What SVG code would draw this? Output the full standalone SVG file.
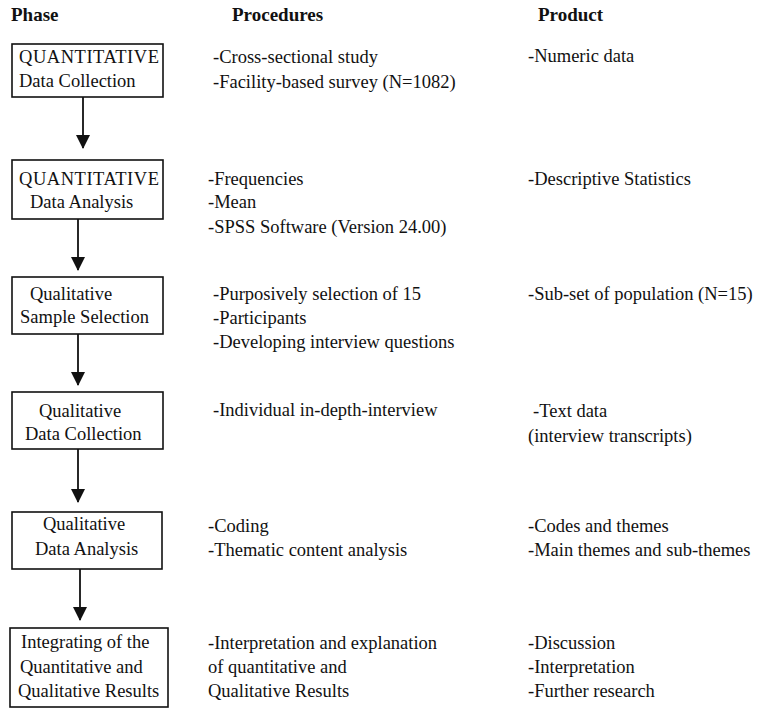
<svg xmlns="http://www.w3.org/2000/svg" width="765" height="711" viewBox="0 0 765 711">
<style>
text{font-family:"Liberation Serif","Times New Roman",serif;font-size:18.5px;fill:#111}
.h{font-weight:bold;font-size:19px}
.box{fill:#fff;stroke:#111;stroke-width:1.6}
.arr{stroke:#111;stroke-width:1.8;fill:none}
</style>
<defs>
<marker id="ah" markerUnits="userSpaceOnUse" markerWidth="14" markerHeight="16" refX="13" refY="7" orient="auto">
<path d="M0,0 L14,7 L0,14 Z" fill="#111"/>
</marker>
</defs>
<rect width="765" height="711" fill="#fff"/>
<g id="headers">
<text class="h" x="11" y="21">Phase</text>
<text class="h" x="232" y="21">Procedures</text>
<text class="h" x="538" y="21">Product</text>
</g>
<g id="connectors">
<line class="arr" x1="83" y1="97" x2="83" y2="148" marker-end="url(#ah)"/>
<line class="arr" x1="78" y1="219" x2="78" y2="270" marker-end="url(#ah)"/>
<line class="arr" x1="78" y1="334" x2="78" y2="385" marker-end="url(#ah)"/>
<line class="arr" x1="78" y1="449" x2="78" y2="502" marker-end="url(#ah)"/>
<line class="arr" x1="80" y1="569" x2="80" y2="620" marker-end="url(#ah)"/>
</g>
<g id="n1">
<rect class="box" x="12" y="44" width="151" height="53"/>
<text x="19" y="63" textLength="140">QUANTITATIVE</text>
<text x="19" y="87">Data Collection</text>
</g>
<g id="n2">
<rect class="box" x="12" y="160" width="151" height="59"/>
<text x="19" y="185" textLength="140">QUANTITATIVE</text>
<text x="30" y="208">Data Analysis</text>
</g>
<g id="n3">
<rect class="box" x="12" y="277" width="151" height="57"/>
<text x="30" y="300">Qualitative</text>
<text x="20" y="323">Sample Selection</text>
</g>
<g id="n4">
<rect class="box" x="12" y="392" width="151" height="57"/>
<text x="39" y="417">Qualitative</text>
<text x="25" y="440">Data Collection</text>
</g>
<g id="n5">
<rect class="box" x="12" y="512" width="150" height="57"/>
<text x="43" y="530">Qualitative</text>
<text x="35" y="555">Data Analysis</text>
</g>
<g id="n6">
<rect class="box" x="10" y="628" width="158" height="79"/>
<text x="21" y="648">Integrating of the</text>
<text x="20" y="673">Quantitative and</text>
<text x="18" y="697">Qualitative Results</text>
</g>
<g id="procedures">
<text x="213" y="63">-Cross-sectional study</text>
<text x="213" y="88">-Facility-based survey (N=1082)</text>
<text x="208" y="185">-Frequencies</text>
<text x="208" y="208">-Mean</text>
<text x="208" y="233">-SPSS Software (Version 24.00)</text>
<text x="213" y="300">-Purposively selection of 15</text>
<text x="213" y="324">-Participants</text>
<text x="213" y="348">-Developing interview questions</text>
<text x="213" y="416">-Individual in-depth-interview</text>
<text x="208" y="532">-Coding</text>
<text x="208" y="556">-Thematic content analysis</text>
<text x="208" y="649">-Interpretation and explanation</text>
<text x="208" y="673">of quantitative and</text>
<text x="208" y="697">Qualitative Results</text>
</g>
<g id="products">
<text x="528" y="62">-Numeric data</text>
<text x="528" y="185">-Descriptive Statistics</text>
<text x="528" y="300">-Sub-set of population (N=15)</text>
<text x="533" y="417">-Text data</text>
<text x="528" y="442">(interview transcripts)</text>
<text x="528" y="532">-Codes and themes</text>
<text x="528" y="556">-Main themes and sub-themes</text>
<text x="528" y="649">-Discussion</text>
<text x="528" y="673">-Interpretation</text>
<text x="528" y="697">-Further research</text>
</g>
</svg>
